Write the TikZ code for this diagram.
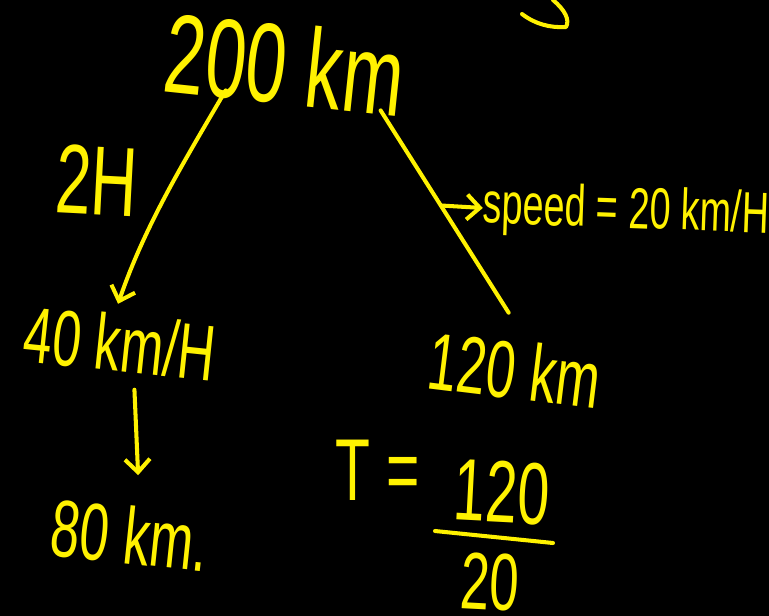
\documentclass[tikz,border=0pt]{standalone}
\usepackage{fontspec}
\usetikzlibrary{arrows.meta,positioning,calc}
\newfontfamily\handfont[FakeStretch=0.65]{Liberation Sans}
\definecolor{NoteYellow}{HTML}{FFF200}
\definecolor{NoteBoard}{HTML}{000000}

\begin{document}
\begin{tikzpicture}[x=0.02cm,y=-0.02cm]
    \tikzset{notetext/.style={text=NoteYellow,inner sep=0pt,font=\handfont},
      pen/.style={draw=NoteYellow,line width=2.3pt,line cap=round,line join=round},
      penarrow/.style={pen,-{Straight Barb[length=2.6mm,width=5mm]}}}
    \useasboundingbox (0,0) rectangle (769,616);
    \fill[NoteBoard] (0,0) rectangle (769,616);
    \node[notetext,font=\handfont\fontsize{64}{64}\selectfont,rotate=-6] (total) at (285,64) {200 km};
    \node[notetext,font=\handfont\fontsize{56}{56}\selectfont,rotate=-3] (hours) at (97,180) {2H};
    \node[notetext,font=\handfont\fontsize{45}{45}\selectfont,rotate=-6] (speedA) at (120,343) {40 km/H};
    \node[notetext,font=\handfont\fontsize{46}{46}\selectfont,rotate=-6] (distA) at (130,535) {80 km.};
    \node[notetext,font=\handfont\fontsize{33}{33}\selectfont,rotate=-2] (speedB) at (626,213) {speed = 20 km/H};
    \node[notetext,font=\handfont\fontsize{46}{46}\selectfont,rotate=-7] (distB) at (515,370) {120 km};
    \node[notetext,font=\handfont\fontsize{50}{50}\selectfont] (teq) at (378,470) {T =};
    \node[notetext,font=\handfont\fontsize{50}{50}\selectfont,rotate=-3] (num) at (502,492) {120};
    \node[notetext,font=\handfont\fontsize{46}{46}\selectfont,rotate=-3] (den) at (490,582) {20};
    % fraction bar
    \draw[pen] (435,531) -- (553,543);
    % connectors
    \draw[penarrow] ([xshift=-1.1cm,yshift=0.3cm]total.south) .. controls (185,160) and (145,225) .. ([xshift=-0.1cm,yshift=0.2cm]speedA.north);
    \draw[pen] ([xshift=2cm,yshift=-0.1cm]total.south) -- coordinate[pos=0.47] (branch) ([xshift=-0.2cm,yshift=0.55cm]distB.north);
    \draw[penarrow] (branch) -- (speedB.west);
    \draw[penarrow] ([xshift=0.35cm,yshift=-0.35cm]speedA.south) -- ([xshift=0.1cm,yshift=0.6cm]distA.north);
    % stray stroke at the top
    \draw[pen] (522,14) .. controls (535,24) and (550,28) .. (566,27) .. controls (570,20) and (565,10) .. (553,0);
  \end{tikzpicture}
\end{document}
